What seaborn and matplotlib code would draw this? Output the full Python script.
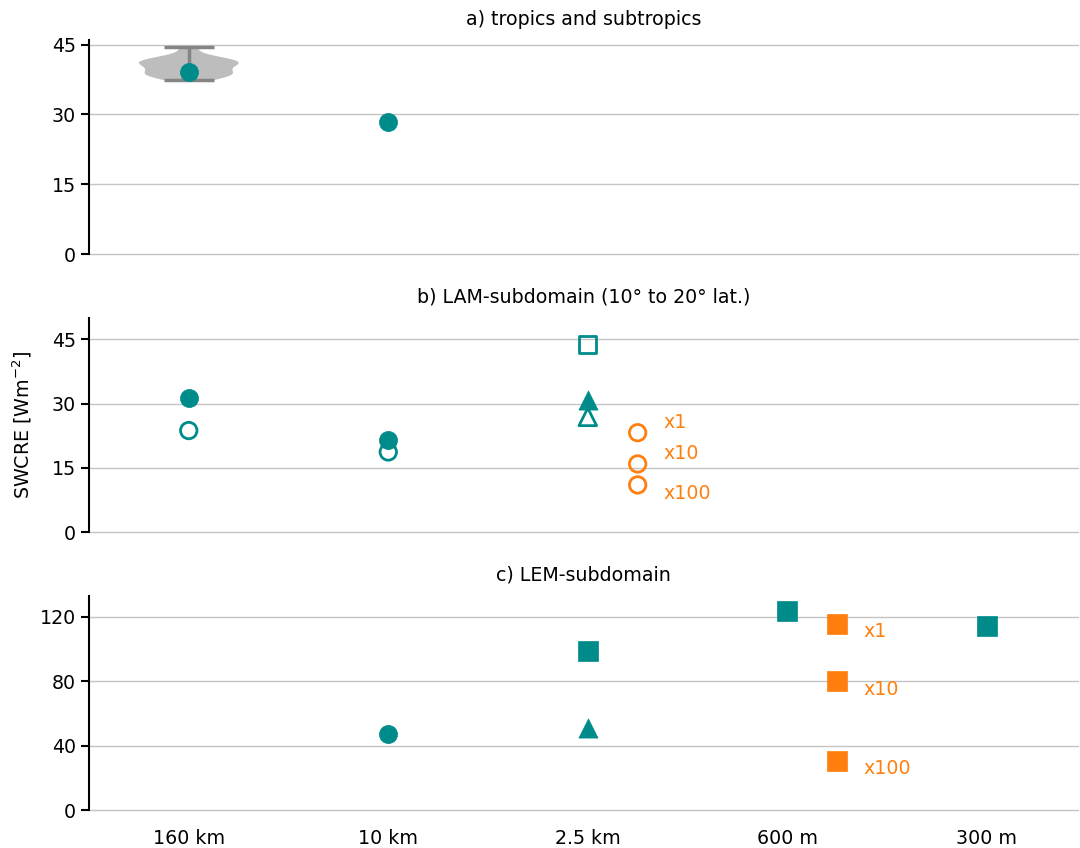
import numpy as np
import pandas as pd
import matplotlib
matplotlib.use("Agg")
import matplotlib.pyplot as plt
import seaborn as sns

# ---------------- data ----------------
res_labels = ["160 km", "10 km", "2.5 km", "600 m", "300 m"]

# panel a
ens_a = [37.3, 38.3, 38.5, 38.7, 38.9, 39.1, 40.4, 40.8, 41.1, 41.3, 41.5, 41.7, 42.0, 44.4]
a_x = [0, 1]
a_y = [39.2, 28.4]

# panel b
b_fill_circ_x = [0, 1]
b_fill_circ_y = [31.4, 21.5]
b_open_circ_x = [0, 1]
b_open_circ_y = [23.7, 18.7]
b_open_sq_x = [2]
b_open_sq_y = [43.8]
b_fill_tri_x = [2]
b_fill_tri_y = [30.9]
b_open_tri_x = [2]
b_open_tri_y = [26.9]
b_orange_x = [2.25, 2.25, 2.25]
b_orange_y = [23.2, 15.9, 11.0]
b_orange_lab = ["x1", "x10", "x100"]
b_lab_y = [25.5, 18.3, 9.1]

# panel c
c_circ_x = [1]
c_circ_y = [47.3]
c_sq_x = [2, 3, 4]
c_sq_y = [98.9, 123.8, 114.4]
c_tri_x = [2]
c_tri_y = [51.0]
c_orange_x = [3.25, 3.25, 3.25]
c_orange_y = [115.7, 80.2, 30.5]
c_orange_lab = ["x1", "x10", "x100"]
c_lab_y = [110.7, 75.2, 25.5]

teal = "#008b8b"
orange = "#ff7f0e"
FS = 13.7

sns.set_style("white")
plt.rcParams["font.family"] = ["DejaVu Sans"]
plt.rcParams["font.size"] = FS
for k in ("text.color", "axes.labelcolor", "xtick.color", "ytick.color"):
    plt.rcParams[k] = "black"

fig = plt.figure(figsize=(10.8, 8.48), dpi=100)
L, W, H = 89 / 1080, (1078 - 89) / 1080, 214 / 848
ax_a = fig.add_axes([L, 1 - 254 / 848, W, H])
ax_b = fig.add_axes([L, 1 - 532 / 848, W, H])
ax_c = fig.add_axes([L, 1 - 810 / 848, W, H])

for ax in (ax_a, ax_b, ax_c):
    ax.set_xlim(-0.5, 4.457)
    for s in ["top", "right", "bottom"]:
        ax.spines[s].set_visible(False)
    ax.spines["left"].set_color("black")
    ax.spines["left"].set_linewidth(1.5)
    ax.yaxis.grid(True, color="#c4c4c4", lw=1)
    ax.set_axisbelow(True)
    ax.tick_params(axis="y", direction="out", length=6, width=1.5, labelsize=FS, left=True)
    ax.set_xticks(range(5))
    ax.tick_params(axis="x", length=0)

def pts(ax, x, y, marker, s, color, filled=True):
    df = pd.DataFrame({"x": x, "y": y})
    if filled:
        sns.scatterplot(data=df, x="x", y="y", marker=marker, s=s, color=color,
                        edgecolor=color, linewidth=0.5, ax=ax, zorder=3, legend=False)
    else:
        sns.scatterplot(data=df, x="x", y="y", marker=marker, s=s, color=color,
                        facecolor="none", edgecolor=color, linewidth=2, ax=ax,
                        zorder=3, legend=False)

# panel a
vp = ax_a.violinplot([ens_a], positions=[0], widths=0.5, showextrema=True, bw_method=0.55)
for b in vp["bodies"]:
    b.set_facecolor("#bdbdbd")
    b.set_edgecolor("none")
    b.set_alpha(1)
for k in ("cmaxes", "cmins", "cbars"):
    vp[k].set_color("#858585")
    vp[k].set_linewidth(2.5)
pts(ax_a, a_x, a_y, "o", 170, teal)
ax_a.set_ylim(0, 46)
ax_a.set_yticks([0, 15, 30, 45])
ax_a.set_title("a) tropics and subtropics", fontsize=FS, pad=11)

# panel b
pts(ax_b, b_fill_circ_x, b_fill_circ_y, "o", 170, teal)
pts(ax_b, b_open_circ_x, b_open_circ_y, "o", 140, teal, filled=False)
pts(ax_b, b_open_sq_x, b_open_sq_y, "s", 150, teal, filled=False)
pts(ax_b, b_fill_tri_x, b_fill_tri_y, "^", 190, teal)
pts(ax_b, b_open_tri_x, b_open_tri_y, "^", 160, teal, filled=False)
pts(ax_b, b_orange_x, b_orange_y, "o", 140, orange, filled=False)
for lab, yy in zip(b_orange_lab, b_lab_y):
    ax_b.text(2.38, yy, lab, color=orange, fontsize=FS, va="center", ha="left")
ax_b.set_ylim(0, 50)
ax_b.set_yticks([0, 15, 30, 45])
ax_b.set_title("b) LAM-subdomain (10° to 20° lat.)", fontsize=FS, pad=11)

# panel c
pts(ax_c, c_circ_x, c_circ_y, "o", 170, teal)
pts(ax_c, c_sq_x, c_sq_y, "s", 190, teal)
pts(ax_c, c_tri_x, c_tri_y, "^", 190, teal)
pts(ax_c, c_orange_x, c_orange_y, "s", 190, orange)
for lab, yy in zip(c_orange_lab, c_lab_y):
    ax_c.text(3.38, yy, lab, color=orange, fontsize=FS, va="center", ha="left")
ax_c.set_ylim(0, 133)
ax_c.set_yticks([0, 40, 80, 120])
ax_c.set_title("c) LEM-subdomain", fontsize=FS, pad=11)

for ax in (ax_a, ax_b):
    ax.set_xticklabels([])
    ax.set_xlabel("")
    ax.set_ylabel("")
ax_b.set_ylabel("SWCRE [Wm$^{-2}$]", fontsize=FS, labelpad=13)
ax_c.set_xticklabels(res_labels, fontsize=FS)
ax_c.tick_params(axis="x", pad=14)
ax_c.set_xlabel("")
ax_c.set_ylabel("")

for ax in (ax_a, ax_b, ax_c):
    for gl in ax.yaxis.get_gridlines():
        gl.set_clip_on(False)

fig.savefig("out.png", dpi=100)
